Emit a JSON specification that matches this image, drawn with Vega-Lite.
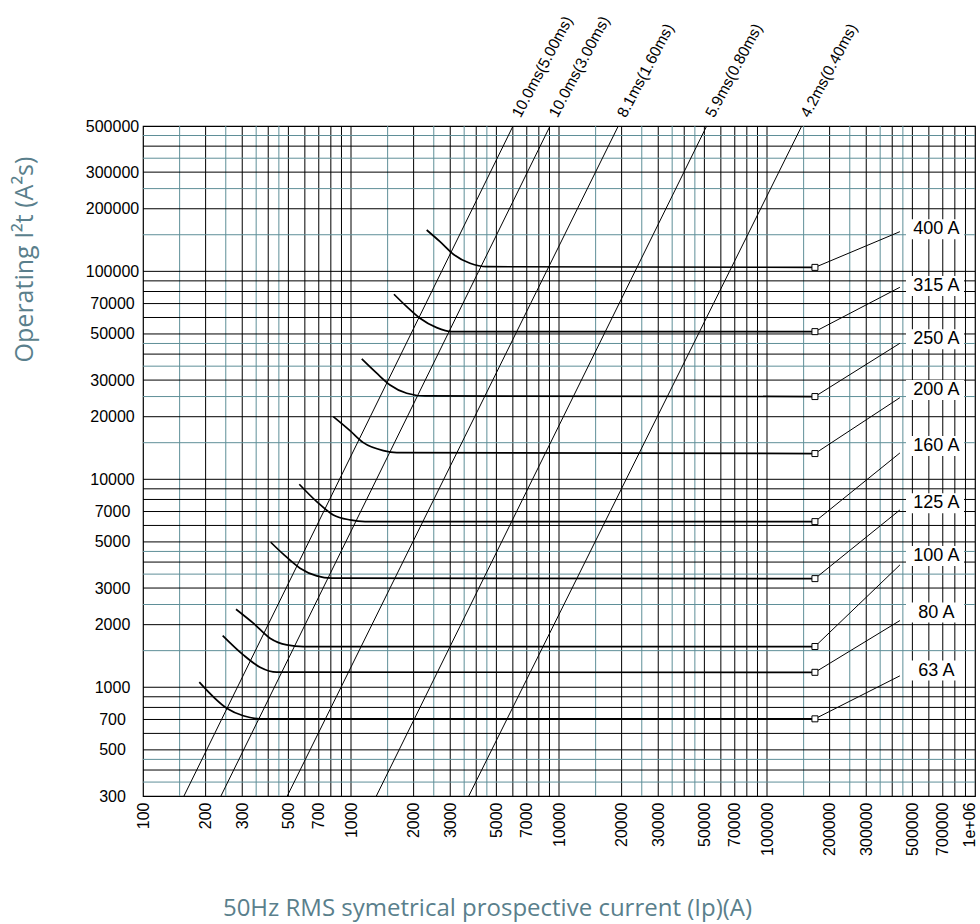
{
  "$schema": "https://vega.github.io/schema/vega-lite/v6.json",
  "width": 832,
  "height": 670,
  "autosize": {"type": "none"},
  "padding": {"left": 143, "top": 126, "right": 5, "bottom": 128},
  "background": "white",
  "config": {
    "view": {"stroke": "#000000", "strokeWidth": 1.2},
    "axis": {"grid": false, "ticks": false, "tickSize": 0, "domain": false, "labelFont": "Liberation Sans", "labelFontSize": 16, "labelColor": "#000000", "labelOverlap": false, "labelFlush": false, "titleFont": "Open Sans", "titleFontSize": 24, "titleFontWeight": "normal", "titleColor": "#5a7f8c"}
  },
  "datasets": {
    "gridx": [
      {"v":150,"c":"t"},{"v":250,"c":"t"},{"v":350,"c":"t"},{"v":450,"c":"t"},
      {"v":1500,"c":"t"},{"v":2500,"c":"t"},{"v":3500,"c":"t"},{"v":4500,"c":"t"},
      {"v":15000,"c":"t"},{"v":25000,"c":"t"},{"v":35000,"c":"t"},{"v":45000,"c":"t"},
      {"v":150000,"c":"t"},{"v":250000,"c":"t"},{"v":350000,"c":"t"},{"v":450000,"c":"t"},
      {"v":200,"c":"k"},{"v":300,"c":"k"},{"v":400,"c":"k"},{"v":500,"c":"k"},{"v":600,"c":"k"},{"v":700,"c":"k"},{"v":800,"c":"k"},{"v":900,"c":"k"},
      {"v":1000,"c":"k"},{"v":2000,"c":"k"},{"v":3000,"c":"k"},{"v":4000,"c":"k"},{"v":5000,"c":"k"},{"v":6000,"c":"k"},{"v":7000,"c":"k"},{"v":8000,"c":"k"},{"v":9000,"c":"k"},
      {"v":10000,"c":"k"},{"v":20000,"c":"k"},{"v":30000,"c":"k"},{"v":40000,"c":"k"},{"v":50000,"c":"k"},{"v":60000,"c":"k"},{"v":70000,"c":"k"},{"v":80000,"c":"k"},{"v":90000,"c":"k"},
      {"v":100000,"c":"k"},{"v":200000,"c":"k"},{"v":300000,"c":"k"},{"v":400000,"c":"k"},{"v":500000,"c":"k"},{"v":600000,"c":"k"},{"v":700000,"c":"k"},{"v":800000,"c":"k"},{"v":900000,"c":"k"}
    ],
    "gridy": [
      {"v":350,"c":"t"},{"v":450,"c":"t"},
      {"v":1500,"c":"t"},{"v":2500,"c":"t"},{"v":3500,"c":"t"},{"v":4500,"c":"t"},
      {"v":15000,"c":"t"},{"v":25000,"c":"t"},{"v":35000,"c":"t"},{"v":45000,"c":"t"},
      {"v":150000,"c":"t"},{"v":250000,"c":"t"},{"v":350000,"c":"t"},{"v":450000,"c":"t"},
      {"v":400,"c":"k"},{"v":500,"c":"k"},{"v":600,"c":"k"},{"v":700,"c":"k"},{"v":800,"c":"k"},{"v":900,"c":"k"},
      {"v":1000,"c":"k"},{"v":2000,"c":"k"},{"v":3000,"c":"k"},{"v":4000,"c":"k"},{"v":5000,"c":"k"},{"v":6000,"c":"k"},{"v":7000,"c":"k"},{"v":8000,"c":"k"},{"v":9000,"c":"k"},
      {"v":10000,"c":"k"},{"v":20000,"c":"k"},{"v":30000,"c":"k"},{"v":40000,"c":"k"},{"v":50000,"c":"k"},{"v":60000,"c":"k"},{"v":70000,"c":"k"},{"v":80000,"c":"k"},{"v":90000,"c":"k"},
      {"v":100000,"c":"k"},{"v":200000,"c":"k"},{"v":300000,"c":"k"},{"v":400000,"c":"k"}
    ],
    "diag": [
      {"lbl":"10.0ms(5.00ms)","I1":157.4,"v1":300,"I2":6012,"v2":500000},
      {"lbl":"10.0ms(3.00ms)","I1":237,"v1":300,"I2":9057,"v2":500000},
      {"lbl":"8.1ms(1.60ms)","I1":494,"v1":300,"I2":19280,"v2":500000},
      {"lbl":"5.9ms(0.80ms)","I1":1324,"v1":300,"I2":51290,"v2":500000},
      {"lbl":"4.2ms(0.40ms)","I1":3683,"v1":300,"I2":146900,"v2":500000}
    ],
    "fuse": [
      {"f":"63 A","I":186.5,"v":1058},{"f":"63 A","I":252.6,"v":793},{"f":"63 A","I":303.5,"v":729},{"f":"63 A","I":365,"v":705},{"f":"63 A","I":170000,"v":705},
      {"f":"80 A","I":241.6,"v":1772},{"f":"80 A","I":303.5,"v":1431},{"f":"80 A","I":365.2,"v":1249},{"f":"80 A","I":439.3,"v":1182},{"f":"80 A","I":170000,"v":1180},
      {"f":"100 A","I":280,"v":2373},{"f":"100 A","I":339.1,"v":2033},{"f":"100 A","I":407.9,"v":1722},{"f":"100 A","I":490.9,"v":1599},{"f":"100 A","I":589.8,"v":1570},{"f":"100 A","I":170000,"v":1570},
      {"f":"125 A","I":411.1,"v":4984},{"f":"125 A","I":472.6,"v":4364},{"f":"125 A","I":568.6,"v":3738},{"f":"125 A","I":684.1,"v":3431},{"f":"125 A","I":807.7,"v":3345},{"f":"125 A","I":170000,"v":3330},
      {"f":"160 A","I":564.2,"v":9471},{"f":"160 A","I":684.1,"v":7812},{"f":"160 A","I":822.1,"v":6743},{"f":"160 A","I":989,"v":6381},{"f":"160 A","I":1168,"v":6262},{"f":"160 A","I":170000,"v":6260},
      {"f":"200 A","I":822.1,"v":20020},{"f":"200 A","I":989,"v":17140},{"f":"200 A","I":1146,"v":15010},{"f":"200 A","I":1430,"v":13740},{"f":"200 A","I":1659,"v":13440},{"f":"200 A","I":170000,"v":13300},
      {"f":"250 A","I":1126,"v":37920},{"f":"250 A","I":1329,"v":32370},{"f":"250 A","I":1540,"v":28430},{"f":"250 A","I":1853,"v":25940},{"f":"250 A","I":2269,"v":25170},{"f":"250 A","I":170000,"v":25000},
      {"f":"315 A","I":1609,"v":77610},{"f":"315 A","I":1853,"v":67650},{"f":"315 A","I":2146,"v":59500},{"f":"315 A","I":2582,"v":53610},{"f":"315 A","I":3049,"v":51300},{"f":"315 A","I":170000,"v":51300},
      {"f":"400 A","I":2311,"v":158100},{"f":"400 A","I":2679,"v":138900},{"f":"400 A","I":3103,"v":120900},{"f":"400 A","I":3734,"v":109400},{"f":"400 A","I":4492,"v":105300},{"f":"400 A","I":170000,"v":104500}
    ],
    "leaders": [
      {"f":"400 A","I":170000,"v":104500,"I2":435500,"v2":155200},
      {"f":"315 A","I":170000,"v":51300,"I2":435500,"v2":83850},
      {"f":"250 A","I":170000,"v":25000,"I2":435500,"v2":45100},
      {"f":"200 A","I":170000,"v":13300,"I2":435500,"v2":24700},
      {"f":"160 A","I":170000,"v":6260,"I2":435500,"v2":13390},
      {"f":"125 A","I":170000,"v":3330,"I2":435500,"v2":7125},
      {"f":"100 A","I":170000,"v":1570,"I2":435500,"v2":3875},
      {"f":"80 A","I":170000,"v":1180,"I2":435500,"v2":2093},
      {"f":"63 A","I":170000,"v":705,"I2":435500,"v2":1135}
    ],
    "labels": [
      {"f":"400 A","v":159400,"lo":142700,"hi":178000},
      {"f":"315 A","v":85080,"lo":76170,"hi":95030},
      {"f":"250 A","v":47160,"lo":42220,"hi":52680},
      {"f":"200 A","v":26900,"lo":24080,"hi":30050},
      {"f":"160 A","v":14470,"lo":12950,"hi":16160},
      {"f":"125 A","v":7674,"lo":6870,"hi":8572},
      {"f":"100 A","v":4282,"lo":3833,"hi":4783},
      {"f":"80 A","v":2287,"lo":2047,"hi":2555},
      {"f":"63 A","v":1203,"lo":1077,"hi":1344}
    ]
  },
  "layer": [
    {
      "data": {"name": "gridx"},
      "mark": {"type": "rule", "strokeWidth": 1},
      "encoding": {
        "x": {"field": "v", "type": "quantitative",
          "scale": {"type": "log", "domain": [100, 1000000], "nice": false},
          "axis": {"values": [100,200,300,500,700,1000,2000,3000,5000,7000,10000,20000,30000,50000,70000,100000,200000,300000,500000,700000,1000000],
            "labelAngle": -90, "labelAlign": "right", "labelBaseline": "middle", "labelPadding": 6,
            "labelOffset": {"condition": {"test": "datum.value == 1000000", "value": -6}, "value": 0},
            "labelExpr": "datum.value == 1000000 ? '1e+06' : format(datum.value, 'd')",
            "title": "50Hz RMS symetrical prospective current (Ip)(A)",
            "titleX": 344, "titleY": 119, "titleAlign": "center", "titleBaseline": "alphabetic", "titleAnchor": null}},
        "color": {"field": "c", "type": "nominal", "scale": {"domain": ["t", "k"], "range": ["#5f8f98", "#000000"]}, "legend": null}
      }
    },
    {
      "data": {"name": "gridy"},
      "mark": {"type": "rule", "strokeWidth": 1},
      "encoding": {
        "y": {"field": "v", "type": "quantitative",
          "scale": {"type": "log", "domain": [300, 500000], "nice": false},
          "axis": {"values": [300,500,700,1000,2000,3000,5000,7000,10000,20000,30000,50000,70000,100000,200000,300000,500000],
            "format": "d", "labelAlign": "center", "labelBaseline": "middle", "labelPadding": 31,
            "title": "Operating I²t (A²s)", "titleFontSize": 25,
            "titleX": -111, "titleY": 133, "titleAlign": "center", "titleBaseline": "alphabetic", "titleAngle": -90, "titleAnchor": null}},
        "color": {"field": "c", "type": "nominal", "legend": null}
      }
    },
    {
      "data": {"name": "labels"},
      "mark": {"type": "rect", "fill": "white"},
      "encoding": {
        "x": {"datum": 465900, "type": "quantitative", "scale": {"type": "log", "domain": [100, 1000000], "nice": false}},
        "x2": {"datum": 885300},
        "y": {"field": "lo", "type": "quantitative", "scale": {"type": "log", "domain": [300, 500000], "nice": false}},
        "y2": {"field": "hi"}
      }
    },
    {
      "data": {"name": "diag"},
      "mark": {"type": "rule", "strokeWidth": 1, "color": "#000000", "clip": true},
      "encoding": {
        "x": {"field": "I1", "type": "quantitative", "scale": {"type": "log", "domain": [100, 1000000], "nice": false}},
        "y": {"field": "v1", "type": "quantitative", "scale": {"type": "log", "domain": [300, 500000], "nice": false}},
        "x2": {"field": "I2"},
        "y2": {"field": "v2"}
      }
    },
    {
      "data": {"name": "diag"},
      "mark": {"type": "text", "angle": -62, "align": "left", "baseline": "alphabetic", "dx": 10, "dy": 3, "font": "Liberation Sans", "fontSize": 15.5, "color": "#000000"},
      "encoding": {
        "x": {"field": "I2", "type": "quantitative", "scale": {"type": "log", "domain": [100, 1000000], "nice": false}},
        "y": {"field": "v2", "type": "quantitative", "scale": {"type": "log", "domain": [300, 500000], "nice": false}},
        "text": {"field": "lbl"}
      }
    },
    {
      "data": {"name": "fuse"},
      "mark": {"type": "line", "interpolate": "monotone", "strokeWidth": 1.7, "color": "#000000"},
      "encoding": {
        "x": {"field": "I", "type": "quantitative", "scale": {"type": "log", "domain": [100, 1000000], "nice": false}},
        "y": {"field": "v", "type": "quantitative", "scale": {"type": "log", "domain": [300, 500000], "nice": false}},
        "detail": {"field": "f"}
      }
    },
    {
      "data": {"name": "leaders"},
      "mark": {"type": "rule", "strokeWidth": 1, "color": "#000000"},
      "encoding": {
        "x": {"field": "I", "type": "quantitative", "scale": {"type": "log", "domain": [100, 1000000], "nice": false}},
        "y": {"field": "v", "type": "quantitative", "scale": {"type": "log", "domain": [300, 500000], "nice": false}},
        "x2": {"field": "I2"},
        "y2": {"field": "v2"}
      }
    },
    {
      "data": {"name": "leaders"},
      "mark": {"type": "point", "shape": "square", "size": 36, "filled": true, "fill": "white", "stroke": "#000000", "strokeWidth": 1, "opacity": 1},
      "encoding": {
        "x": {"field": "I", "type": "quantitative", "scale": {"type": "log", "domain": [100, 1000000], "nice": false}},
        "y": {"field": "v", "type": "quantitative", "scale": {"type": "log", "domain": [300, 500000], "nice": false}}
      }
    },
    {
      "data": {"name": "labels"},
      "mark": {"type": "text", "align": "center", "baseline": "middle", "font": "Liberation Sans", "fontSize": 18, "color": "#000000"},
      "encoding": {
        "x": {"datum": 652000, "type": "quantitative", "scale": {"type": "log", "domain": [100, 1000000], "nice": false}},
        "y": {"field": "v", "type": "quantitative", "scale": {"type": "log", "domain": [300, 500000], "nice": false}},
        "text": {"field": "f"}
      }
    }
  ]
}
